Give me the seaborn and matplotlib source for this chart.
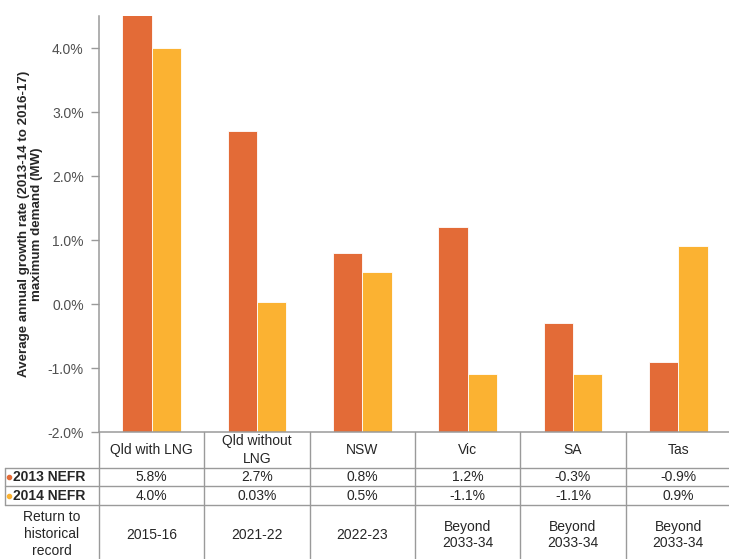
import pandas as pd
import matplotlib
matplotlib.use('Agg')
import matplotlib.pyplot as plt
import seaborn as sns

# data
regions = ['Qld with LNG', 'Qld without\nLNG', 'NSW', 'Vic', 'SA', 'Tas']
series = ['2013 NEFR', '2014 NEFR']
nefr_2013 = [5.8, 2.7, 0.8, 1.2, -0.3, -0.9]
nefr_2014 = [4.0, 0.03, 0.5, -1.1, -1.1, 0.9]
text_2013 = ['5.8%', '2.7%', '0.8%', '1.2%', '-0.3%', '-0.9%']
text_2014 = ['4.0%', '0.03%', '0.5%', '-1.1%', '-1.1%', '0.9%']
return_year = ['2015-16', '2021-22', '2022-23',
               'Beyond\n2033-34', 'Beyond\n2033-34', 'Beyond\n2033-34']
y_ticks = [-2, -1, 0, 1, 2, 3, 4]
BASE = -2.0  # bars stand on the bottom of the axis

RED = '#E36B37'
YEL = '#FBB232'
GRID = '#9a9a9a'
TXT = '#262626'

df = pd.DataFrame({
    'region': regions * 2,
    'series': [series[0]] * 6 + [series[1]] * 6,
    'value': nefr_2013 + nefr_2014,
})
df['height'] = df['value'] - BASE

sns.set_style('white')
plt.rcParams['font.family'] = ['Liberation Sans', 'DejaVu Sans']

W, H = 729, 559
fig = plt.figure(figsize=(W / 100, H / 100), dpi=100)
ax_l, ax_r, ax_t, ax_b = 99, 731, 16, 432
ax = fig.add_axes([ax_l / W, 1 - ax_b / H, (ax_r - ax_l) / W, (ax_b - ax_t) / H])

sns.barplot(data=df, x='region', y='height', hue='series', order=regions,
            hue_order=series, palette=[RED, YEL], width=0.56, saturation=1,
            bottom=BASE, edgecolor='white', linewidth=0.6, legend=False, ax=ax)

ax.set_xlim(-0.5, 5.5)
ax.set_ylim(-2, 4.5)
ax.set_yticks(y_ticks)
ax.set_yticklabels([f'{t:.1f}%' for t in y_ticks], fontsize=10, color='#505050')
ax.set_xticks([])
ax.set_xlabel('')
ax.tick_params(axis='y', length=6, width=1, color=GRID, pad=5, left=True)
for s in ['top', 'right']:
    ax.spines[s].set_visible(False)
for s in ['left', 'bottom']:
    ax.spines[s].set_color(GRID)
    ax.spines[s].set_linewidth(1.1)
ax.set_ylabel('Average annual growth rate (2013-14 to 2016-17)\nmaximum demand (MW)',
              fontsize=9.6, fontweight='bold', color=TXT, linespacing=1.1)
ax.yaxis.set_label_coords((43 - ax_l) / (ax_r - ax_l), 0.5)

# table under the chart, same x scale as the bars
tab_h = H - ax_b
tab = fig.add_axes([ax_l / W, 0, (ax_r - ax_l) / W, tab_h / H])
tab.set_xlim(-0.5, 5.5)
tab.set_ylim(tab_h, 0)
tab.axis('off')
col_w = (ax_r - ax_l) / 6


def px(p):
    return -0.5 + (p - ax_l) / col_w


rows = [0, 36, 54, 73, 140]
left = px(5)
kw = dict(color=GRID, lw=1, clip_on=False)
for i in range(6):
    tab.plot([i - 0.5, i - 0.5], [0, tab_h], **kw)
for y in rows[1:4]:
    tab.plot([left, 5.5], [y, y], **kw)
tab.plot([left, left], [rows[1], rows[3]], **kw)

fs = 10
for i, r in enumerate(regions):
    tab.text(i, 18, r, ha='center', va='center', fontsize=fs, color=TXT, linespacing=1.35)
    tab.text(i, 45, text_2013[i], ha='center', va='center', fontsize=fs, color=TXT)
    tab.text(i, 63.5, text_2014[i], ha='center', va='center', fontsize=fs, color=TXT)
    tab.text(i, 103, return_year[i], ha='center', va='center', fontsize=fs, color=TXT,
             linespacing=1.2)

for y, name, c in [(45, series[0], RED), (63.5, series[1], YEL)]:
    tab.plot([px(9)], [y], 'o', ms=3, color=c, clip_on=False)
    tab.text(px(13), y, name, ha='left', va='center', fontsize=fs, fontweight='bold',
             color=TXT, clip_on=False)
tab.text(px(52), 102, 'Return to\nhistorical\nrecord', ha='center', va='center',
         fontsize=fs, color=TXT, linespacing=1.25, clip_on=False)

fig.savefig('out.png', dpi=100)
